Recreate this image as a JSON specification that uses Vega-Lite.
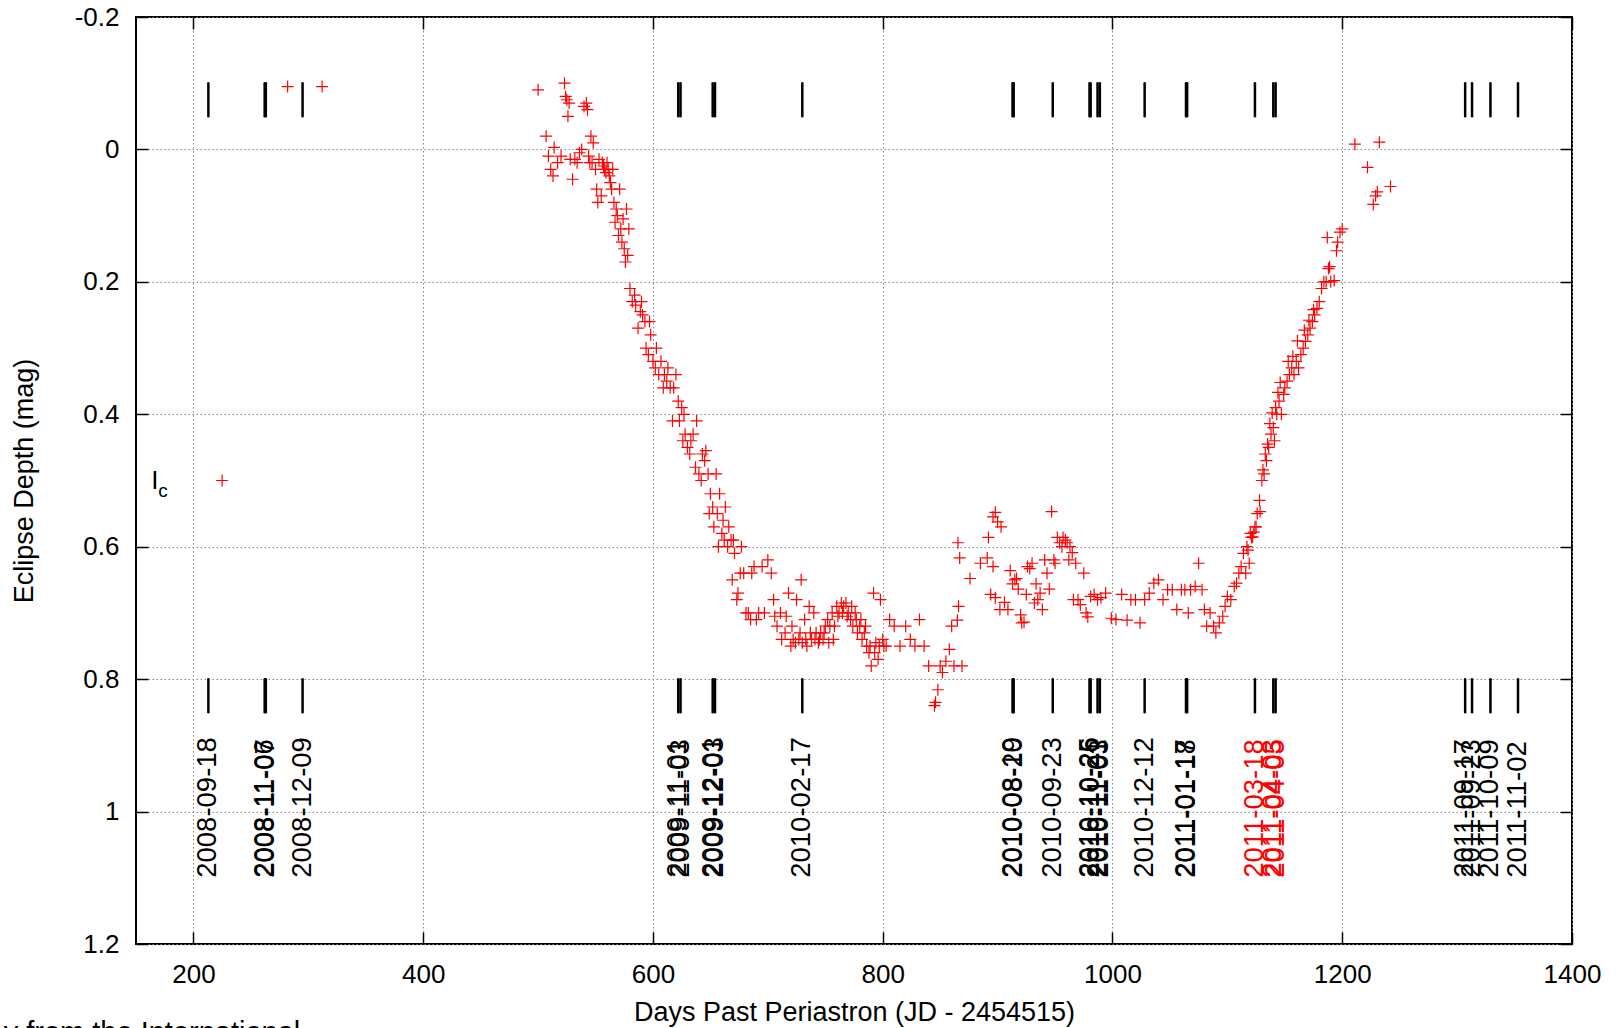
{
  "$schema": "https://vega.github.io/schema/vega-lite/v6.json",
  "width": 1436,
  "height": 927,
  "autosize": "none",
  "padding": {"left": 136, "top": 17, "right": 50, "bottom": 84},
  "config": {
    "font": "Liberation Sans",
    "view": {"stroke": "black", "strokeWidth": 2},
    "axis": {
      "labelFont": "Liberation Sans",
      "titleFont": "Liberation Sans",
      "labelColor": "black",
      "titleColor": "black",
      "titleFontWeight": "normal",
      "labelFontSize": 26,
      "titleFontSize": 27,
      "domain": false,
      "tickColor": "black",
      "tickWidth": 1.5,
      "tickSize": -12,
      "gridColor": "#888888",
      "gridDash": [1.5, 2.5],
      "gridWidth": 1,
      "labelFlush": false,
      "labelOverlap": false
    }
  },
  "datasets": {
    "obs": [
      {"d":500,"m":-0.09},{"d":507,"m":-0.02},{"d":509,"m":0.01},{"d":511,"m":0.03},{"d":513,"m":0.04},{"d":514,"m":-0.003},{"d":517,"m":0.02},{"d":520,"m":0.01},
      {"d":523,"m":-0.1},{"d":524,"m":-0.08},{"d":525,"m":-0.075},{"d":526,"m":-0.05},{"d":527,"m":-0.07},{"d":528,"m":0.015},{"d":530,"m":0.045},{"d":532,"m":0.015},
      {"d":534,"m":0.02},{"d":536,"m":0.005},{"d":538,"m":0.0},{"d":540,"m":-0.065},{"d":542,"m":-0.07},{"d":543,"m":-0.06},{"d":544,"m":0.01},{"d":545,"m":0.02},
      {"d":546,"m":-0.02},{"d":547,"m":0.02},{"d":548,"m":-0.01},{"d":550,"m":0.03},{"d":551,"m":0.06},{"d":552,"m":0.08},{"d":553,"m":0.015},{"d":555,"m":0.07},
      {"d":556,"m":0.02},{"d":557,"m":0.025},{"d":558,"m":0.03},{"d":559,"m":0.035},{"d":560,"m":0.02},{"d":561,"m":0.03},{"d":562,"m":0.04},{"d":563,"m":0.05},
      {"d":564,"m":0.06},{"d":565,"m":0.03},{"d":566,"m":0.08},{"d":567,"m":0.11},{"d":568,"m":0.09},{"d":569,"m":0.1},{"d":570,"m":0.13},{"d":571,"m":0.06},
      {"d":572,"m":0.12},{"d":573,"m":0.14},{"d":574,"m":0.105},{"d":575,"m":0.15},{"d":576,"m":0.17},{"d":577,"m":0.09},{"d":578,"m":0.16},{"d":579,"m":0.12},
      {"d":580,"m":0.21},{"d":582,"m":0.23},{"d":584,"m":0.22},{"d":585,"m":0.235},{"d":587,"m":0.27},{"d":589,"m":0.245},{"d":590,"m":0.23},{"d":591,"m":0.25},
      {"d":593,"m":0.26},{"d":594,"m":0.3},{"d":596,"m":0.31},{"d":597,"m":0.26},{"d":598,"m":0.28},{"d":600,"m":0.32},{"d":602,"m":0.33},{"d":603,"m":0.3},
      {"d":605,"m":0.34},{"d":607,"m":0.32},{"d":609,"m":0.36},{"d":610,"m":0.34},{"d":612,"m":0.35},{"d":613,"m":0.33},{"d":615,"m":0.36},{"d":617,"m":0.41},
      {"d":618,"m":0.36},{"d":620,"m":0.34},{"d":622,"m":0.38},{"d":623,"m":0.41},{"d":625,"m":0.39},{"d":626,"m":0.44},{"d":627,"m":0.4},{"d":628,"m":0.43},
      {"d":630,"m":0.45},{"d":632,"m":0.46},{"d":633,"m":0.44},{"d":635,"m":0.43},{"d":637,"m":0.48},{"d":638,"m":0.41},{"d":640,"m":0.49},{"d":642,"m":0.5},
      {"d":643,"m":0.46},{"d":645,"m":0.47},{"d":646,"m":0.455},{"d":648,"m":0.49},{"d":649,"m":0.55},{"d":650,"m":0.52},{"d":652,"m":0.54},{"d":653,"m":0.57},
      {"d":655,"m":0.49},{"d":656,"m":0.55},{"d":657,"m":0.6},{"d":658,"m":0.52},{"d":660,"m":0.58},{"d":661,"m":0.56},{"d":662,"m":0.59},{"d":663,"m":0.54},
      {"d":665,"m":0.6},{"d":666,"m":0.57},{"d":668,"m":0.59},{"d":669,"m":0.65},{"d":670,"m":0.59},{"d":671,"m":0.61},{"d":673,"m":0.68},{"d":674,"m":0.67},
      {"d":676,"m":0.64},{"d":677,"m":0.6},{"d":679,"m":0.64},{"d":681,"m":0.7},{"d":683,"m":0.7},{"d":685,"m":0.71},{"d":686,"m":0.64},{"d":688,"m":0.63},
      {"d":690,"m":0.71},{"d":692,"m":0.7},{"d":695,"m":0.63},{"d":697,"m":0.7},{"d":700,"m":0.62},
      {"d":703,"m":0.64},{"d":705,"m":0.68},{"d":706,"m":0.705},{"d":708,"m":0.72},{"d":711,"m":0.7},{"d":712,"m":0.74},{"d":715,"m":0.73},{"d":716,"m":0.705},
      {"d":718,"m":0.67},{"d":720,"m":0.75},{"d":721,"m":0.72},{"d":722,"m":0.74},{"d":724,"m":0.745},{"d":725,"m":0.68},{"d":727,"m":0.74},{"d":728,"m":0.73},
      {"d":729,"m":0.65},{"d":730,"m":0.745},{"d":732,"m":0.71},{"d":733,"m":0.74},{"d":734,"m":0.75},{"d":736,"m":0.69},{"d":737,"m":0.73},{"d":738,"m":0.74},
      {"d":740,"m":0.7},{"d":741,"m":0.74},{"d":742,"m":0.73},{"d":744,"m":0.745},{"d":745,"m":0.74},{"d":746,"m":0.73},{"d":748,"m":0.74},{"d":749,"m":0.73},
      {"d":750,"m":0.72},{"d":752,"m":0.71},{"d":753,"m":0.745},{"d":754,"m":0.72},{"d":756,"m":0.7},{"d":757,"m":0.74},{"d":758,"m":0.72},{"d":760,"m":0.69},
      {"d":761,"m":0.705},{"d":762,"m":0.7},{"d":764,"m":0.685},{"d":765,"m":0.7},{"d":766,"m":0.69},{"d":768,"m":0.685},{"d":769,"m":0.705},{"d":770,"m":0.7},
      {"d":772,"m":0.71},{"d":773,"m":0.69},{"d":774,"m":0.72},{"d":776,"m":0.7},{"d":777,"m":0.71},{"d":778,"m":0.73},{"d":780,"m":0.72},{"d":781,"m":0.71},
      {"d":782,"m":0.74},{"d":784,"m":0.73},{"d":785,"m":0.72},{"d":786,"m":0.75},{"d":788,"m":0.76},{"d":789,"m":0.75},{"d":790,"m":0.78},{"d":792,"m":0.67},
      {"d":793,"m":0.76},{"d":794,"m":0.745},{"d":796,"m":0.77},{"d":797,"m":0.75},{"d":798,"m":0.68},{"d":800,"m":0.74},{"d":801,"m":0.75},{"d":803,"m":0.75},
      {"d":806,"m":0.71},{"d":810,"m":0.72},{"d":815,"m":0.75},{"d":820,"m":0.72},{"d":824,"m":0.74},{"d":828,"m":0.75},{"d":832,"m":0.71},{"d":836,"m":0.75},
      {"d":840,"m":0.78},{"d":845,"m":0.84},{"d":846,"m":0.835},{"d":848,"m":0.816},{"d":850,"m":0.78},{"d":852,"m":0.79},{"d":855,"m":0.773},{"d":858,"m":0.755},
      {"d":860,"m":0.72},{"d":862,"m":0.78},{"d":865,"m":0.711},{"d":866,"m":0.69},{"d":865.5,"m":0.594},{"d":867,"m":0.617},{"d":869,"m":0.78},{"d":876,"m":0.648},
      {"d":885,"m":0.625},{"d":891,"m":0.617},{"d":892,"m":0.586},{"d":894,"m":0.672},{"d":896,"m":0.63},{"d":896,"m":0.555},{"d":898,"m":0.548},{"d":898,"m":0.677},
      {"d":900,"m":0.5625},{"d":902,"m":0.695},{"d":903,"m":0.57},{"d":906,"m":0.684},{"d":909,"m":0.695},{"d":911,"m":0.636},{"d":913,"m":0.656},{"d":915,"m":0.65},
      {"d":916.5,"m":0.648},{"d":918,"m":0.664},{"d":920,"m":0.703},{"d":921,"m":0.715},{"d":923,"m":0.714},{"d":925,"m":0.672},{"d":926,"m":0.63},{"d":928,"m":0.633},
      {"d":930,"m":0.625},{"d":932,"m":0.685},{"d":933.5,"m":0.656},{"d":935,"m":0.68},{"d":937,"m":0.67},{"d":939,"m":0.695},{"d":941,"m":0.62},{"d":943,"m":0.64},
      {"d":945,"m":0.664},{"d":947,"m":0.547},{"d":949,"m":0.62},{"d":950,"m":0.625},{"d":952,"m":0.586},{"d":954,"m":0.594},{"d":956,"m":0.6},{"d":957,"m":0.586},
      {"d":959,"m":0.59},{"d":960.5,"m":0.594},{"d":962,"m":0.62},{"d":963,"m":0.6},{"d":965,"m":0.609},{"d":966,"m":0.68},{"d":968,"m":0.625},{"d":970,"m":0.68},
      {"d":972,"m":0.6875},{"d":975,"m":0.64},{"d":977,"m":0.7},{"d":978.5,"m":0.706},{"d":981,"m":0.675},{"d":984,"m":0.672},{"d":987,"m":0.68},{"d":990,"m":0.677},
      {"d":994,"m":0.67},{"d":999,"m":0.708},{"d":1003,"m":0.71},{"d":1008,"m":0.672},{"d":1012.7,"m":0.711},{"d":1016,"m":0.68},{"d":1020,"m":0.68},{"d":1024,"m":0.715},
      {"d":1028,"m":0.68},{"d":1032,"m":0.67},{"d":1036,"m":0.655},{"d":1040,"m":0.65},{"d":1044,"m":0.68},{"d":1048,"m":0.665},{"d":1052,"m":0.665},{"d":1056,"m":0.695},
      {"d":1060,"m":0.665},{"d":1063,"m":0.665},{"d":1066,"m":0.7},{"d":1068,"m":0.665},{"d":1072,"m":0.66},{"d":1075,"m":0.625},{"d":1078,"m":0.665},{"d":1080,"m":0.695},
      {"d":1082,"m":0.72},{"d":1085,"m":0.7},{"d":1088,"m":0.72},{"d":1090,"m":0.73},{"d":1093,"m":0.715},{"d":1096,"m":0.705},{"d":1098,"m":0.69},{"d":1100,"m":0.675},
      {"d":1103,"m":0.68},{"d":1106,"m":0.66},{"d":1108,"m":0.655},{"d":1110,"m":0.64},{"d":1112,"m":0.63},{"d":1114,"m":0.61},{"d":1116,"m":0.64},{"d":1117,"m":0.6},
      {"d":1118,"m":0.605},{"d":1119,"m":0.625},{"d":1120,"m":0.58},{"d":1121,"m":0.586},{"d":1122,"m":0.585},{"d":1123,"m":0.578},{"d":1124,"m":0.57},{"d":1125,"m":0.57},
      {"d":1126,"m":0.55},{"d":1128,"m":0.53},{"d":1128.5,"m":0.547},{"d":1130,"m":0.5},{"d":1131,"m":0.484},{"d":1132,"m":0.49},{"d":1133,"m":0.46},{"d":1134,"m":0.47},
      {"d":1135,"m":0.445},{"d":1136,"m":0.45},{"d":1137,"m":0.414},{"d":1138,"m":0.43},{"d":1139,"m":0.398},{"d":1140,"m":0.42},{"d":1141,"m":0.44},{"d":1142,"m":0.39},
      {"d":1143,"m":0.4},{"d":1144,"m":0.367},{"d":1145,"m":0.38},{"d":1146,"m":0.352},{"d":1147,"m":0.4},{"d":1149,"m":0.37},{"d":1150,"m":0.36},{"d":1152,"m":0.35},
      {"d":1153,"m":0.32},{"d":1154,"m":0.34},{"d":1156,"m":0.33},{"d":1157,"m":0.3125},{"d":1158,"m":0.34},{"d":1160,"m":0.32},{"d":1161,"m":0.289},{"d":1162,"m":0.33},
      {"d":1164,"m":0.31},{"d":1166,"m":0.3},{"d":1167,"m":0.273},{"d":1168,"m":0.29},{"d":1170,"m":0.28},{"d":1171,"m":0.258},{"d":1172,"m":0.27},{"d":1174,"m":0.26},
      {"d":1175,"m":0.242},{"d":1176,"m":0.25},{"d":1178,"m":0.24},{"d":1180,"m":0.23},{"d":1182,"m":0.21},{"d":1184,"m":0.2},{"d":1186,"m":0.2},{"d":1187,"m":0.133},
      {"d":1188,"m":0.18},{"d":1189,"m":0.177},{"d":1190,"m":0.2},{"d":1193,"m":0.198},{"d":1195,"m":0.153},{"d":1196,"m":0.14},{"d":1198,"m":0.125},{"d":1200,"m":0.12},
      {"d":1211,"m":-0.008},{"d":1222,"m":0.027},{"d":1227,"m":0.083},{"d":1229,"m":0.07},{"d":1230.5,"m":0.064},{"d":1232.3,"m":-0.011},{"d":1242,"m":0.056},
      {"d":282,"m":-0.095},{"d":312,"m":-0.095}
    ],
    "dates": [
      {"date":"2008-09-18","d":213,"hl":0},
      {"date":"2008-11-06","d":262,"hl":0},
      {"date":"2008-11-07","d":263,"hl":0},
      {"date":"2008-12-09","d":295,"hl":0},
      {"date":"2009-11-01","d":622,"hl":0},
      {"date":"2009-11-03","d":624,"hl":0},
      {"date":"2009-12-01","d":652,"hl":0},
      {"date":"2009-12-03","d":654,"hl":0},
      {"date":"2010-02-17","d":730,"hl":0},
      {"date":"2010-08-19","d":913,"hl":0},
      {"date":"2010-08-20","d":914,"hl":0},
      {"date":"2010-09-23","d":948,"hl":0},
      {"date":"2010-10-25","d":980,"hl":0},
      {"date":"2010-10-26","d":981,"hl":0},
      {"date":"2010-11-01","d":987,"hl":0},
      {"date":"2010-11-03","d":989,"hl":0},
      {"date":"2010-12-12","d":1028,"hl":0},
      {"date":"2011-01-17","d":1064,"hl":0},
      {"date":"2011-01-18","d":1065,"hl":0},
      {"date":"2011-03-18","d":1124,"hl":1},
      {"date":"2011-04-03","d":1140,"hl":1},
      {"date":"2011-04-05","d":1142,"hl":1},
      {"date":"2011-09-17","d":1307,"hl":0},
      {"date":"2011-09-23","d":1313,"hl":0},
      {"date":"2011-10-09","d":1329,"hl":0},
      {"date":"2011-11-02","d":1353,"hl":0}
    ],
    "key": [{"label":"I","sub":"c","labelD":166.5,"symD":225,"m":0.5}],
    "notes": [{"text":"y from the International","d":293,"m":1.313}]
  },
  "layer": [
    {
      "data": {"name": "obs"},
      "mark": {"type": "point", "shape": "M-1,0H1M0,-1V1", "size": 144, "filled": false, "color": "#ff0000", "strokeWidth": 1.2, "opacity": 1},
      "encoding": {
        "x": {"field": "d", "type": "quantitative",
          "scale": {"domain": [150, 1400], "nice": false, "zero": false},
          "axis": {"orient": "bottom", "values": [200,400,600,800,1000,1200,1400], "format": "d", "grid": true, "labelPadding": 29, "title": "Days Past Periastron (JD - 2454515)", "titlePadding": 12}},
        "y": {"field": "m", "type": "quantitative",
          "scale": {"domain": [-0.2, 1.2], "nice": false, "zero": false, "reverse": true},
          "axis": {"orient": "left", "values": [-0.2,0,0.2,0.4,0.6,0.8,1,1.2], "labelExpr": "datum.value < 0 ? '-' + format(-datum.value, '.1~f') : format(datum.value, '.1~f')", "grid": true, "labelPadding": 29, "title": "Eclipse Depth (mag)", "titlePadding": 36}}
      }
    },
    {
      "data": {"name": "dates"},
      "mark": {"type": "rule", "color": "black", "strokeWidth": 2.5, "strokeCap": "round"},
      "encoding": {
        "x": {"field": "d", "type": "quantitative",
          "axis": {"orient": "top", "values": [200,400,600,800,1000,1200,1400], "labels": false, "grid": false, "title": null}},
        "y": {"datum": -0.1, "type": "quantitative",
          "axis": {"orient": "right", "values": [-0.2,0,0.2,0.4,0.6,0.8,1,1.2], "labels": false, "grid": false, "title": null}},
        "y2": {"datum": -0.05}
      }
    },
    {
      "data": {"name": "dates"},
      "mark": {"type": "rule", "color": "black", "strokeWidth": 2.5, "strokeCap": "round"},
      "encoding": {
        "x": {"field": "d", "type": "quantitative", "axis": null},
        "y": {"datum": 0.8, "type": "quantitative", "axis": null},
        "y2": {"datum": 0.85}
      }
    },
    {
      "data": {"name": "dates"},
      "mark": {"type": "text", "angle": 270, "align": "left", "baseline": "middle", "fontSize": 27.5, "font": "Liberation Sans"},
      "encoding": {
        "x": {"field": "d", "type": "quantitative", "axis": null},
        "y": {"datum": 1.1, "type": "quantitative", "axis": null},
        "text": {"field": "date"},
        "color": {"field": "hl", "type": "nominal", "scale": {"domain": [0, 1], "range": ["#000000", "#ff0000"]}, "legend": null}
      }
    },
    {
      "data": {"name": "key"},
      "mark": {"type": "text", "align": "center", "baseline": "middle", "fontSize": 26, "font": "Liberation Sans", "color": "black"},
      "encoding": {
        "x": {"field": "labelD", "type": "quantitative", "axis": null},
        "y": {"field": "m", "type": "quantitative", "axis": null},
        "text": {"field": "label"}
      }
    },
    {
      "data": {"name": "key"},
      "mark": {"type": "text", "align": "center", "baseline": "middle", "fontSize": 19, "font": "Liberation Sans", "color": "black", "dx": 8, "dy": 10},
      "encoding": {
        "x": {"field": "labelD", "type": "quantitative", "axis": null},
        "y": {"field": "m", "type": "quantitative", "axis": null},
        "text": {"field": "sub"}
      }
    },
    {
      "data": {"name": "key"},
      "mark": {"type": "point", "shape": "M-1,0H1M0,-1V1", "size": 144, "filled": false, "color": "#ff0000", "strokeWidth": 1.2, "opacity": 1},
      "encoding": {
        "x": {"field": "symD", "type": "quantitative", "axis": null},
        "y": {"field": "m", "type": "quantitative", "axis": null}
      }
    },
    {
      "data": {"name": "notes"},
      "mark": {"type": "text", "align": "right", "baseline": "top", "fontSize": 29, "font": "Liberation Sans", "color": "black"},
      "encoding": {
        "x": {"field": "d", "type": "quantitative", "axis": null},
        "y": {"field": "m", "type": "quantitative", "axis": null},
        "text": {"field": "text"}
      }
    }
  ],
  "resolve": {"axis": {"x": "independent", "y": "independent"}}
}
